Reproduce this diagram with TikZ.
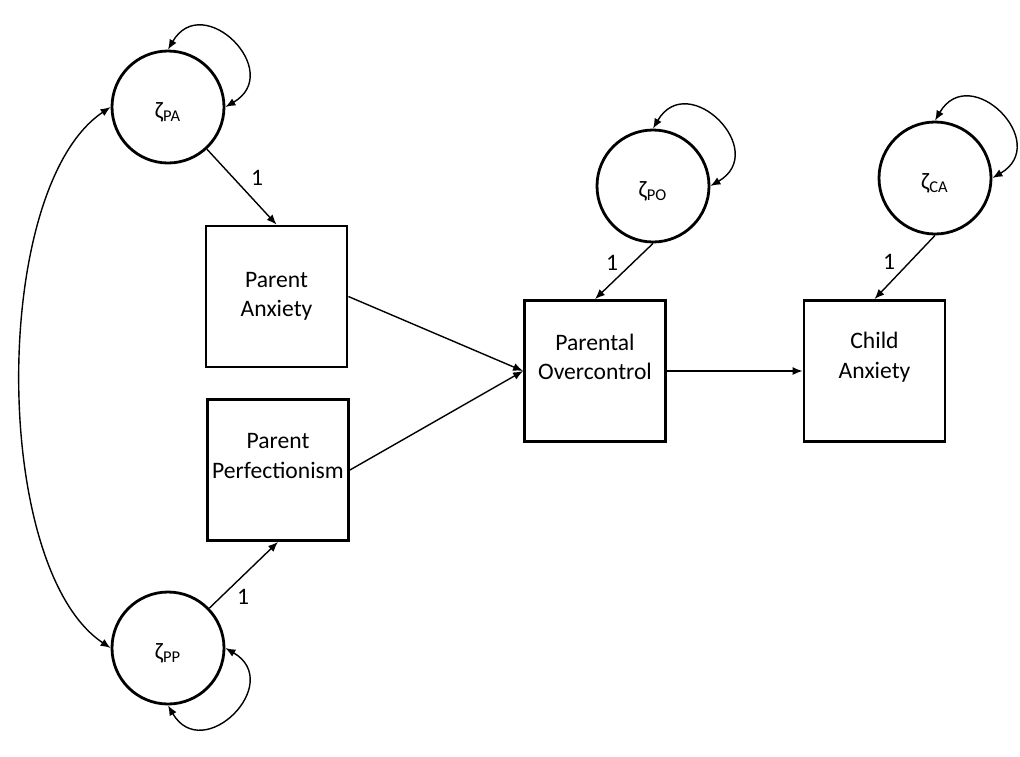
\documentclass[tikz,border=0pt]{standalone}
\usepackage{fontspec}
\setmainfont{Carlito}
\usetikzlibrary{arrows.meta}

\tikzset{
  latent/.style={circle, draw, line width=1.4pt, minimum size=56pt, inner sep=0pt,
    text height=11pt, text depth=0pt},
  observed/.style={rectangle, draw, line width=1.4pt, minimum size=70.5pt, inner sep=0pt},
  boxtext/.style={align=center},
  regarrow/.style={-{Latex[length=5pt,width=4pt]}, line width=0.7pt},
  covar/.style={{Latex[length=5pt,width=4pt]}-{Latex[length=5pt,width=4pt]}, line width=0.7pt}
}

\begin{document}
\begin{tikzpicture}[x=0.5pt, y=-0.5pt, font=\fontsize{11.8}{14.8}\selectfont]
  \useasboundingbox (0,0) rectangle (1020,756);

  % Disturbances
  \node[latent] (zpa) at (168,107) {ζ\textsubscript{PA}};
  \node[latent] (zpp) at (168,648) {ζ\textsubscript{PP}};
  \node[latent] (zpo) at (653,186) {ζ\textsubscript{PO}};
  \node[latent] (zca) at (935,178) {ζ\textsubscript{CA}};

  % Observed variables
  \node[observed] (pa) at (276.5,296.5) {};
  \node[observed] (pp) at (278,470) {};
  \node[observed] (po) at (595,371) {};
  \node[observed] (ca) at (874.5,371) {};
  \node[boxtext] (pa-text) at (pa.center) {Parent\\Anxiety};
  \node[boxtext] (pp-text) at ([yshift=7pt]pp.center) {Parent\\Perfectionism};
  \node[boxtext] (po-text) at ([yshift=7pt]po.center) {Parental\\Overcontrol};
  \node[boxtext] (ca-text) at ([yshift=7pt]ca.center) {Child\\Anxiety};

  % Fixed loadings
  \node (one-pa) at (257,178) {1};
  \node (one-pp) at (243,597) {1};
  \node (one-po) at (612,263) {1};
  \node (one-ca) at (889,262) {1};

  \draw[regarrow] (zpa) -- (pa.north);
  \draw[regarrow] (zpp) -- (pp.south);
  \draw[regarrow] (zpo.south) -- (po.north);
  \draw[regarrow] (zca.south) -- (ca.north);
  \draw[regarrow] (pa.east) -- (po.west);
  \draw[regarrow] (pp.east) -- (po.west);
  \draw[regarrow] (po) -- (ca);

  % Variances and covariance
  \draw[covar] (zpa.north) .. controls +(35,-60) and +(60,-35) .. (zpa.east);
  \draw[covar] (zpo.north) .. controls +(35,-60) and +(60,-35) .. (zpo.east);
  \draw[covar] (zca.north) .. controls +(35,-60) and +(60,-35) .. (zca.east);
  \draw[covar] (zpp.east) .. controls +(60,35) and +(35,60) .. (zpp.south);
  \draw[covar] (zpa.west) .. controls +(-120,80) and +(-120,-80) .. (zpp.west);
\end{tikzpicture}
\end{document}
